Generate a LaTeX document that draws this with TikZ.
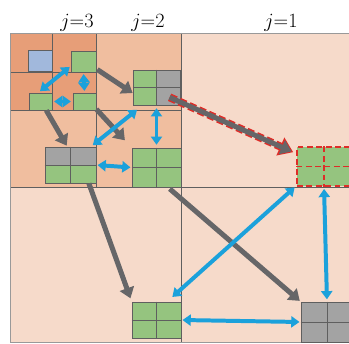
\documentclass[tikz,border=0pt]{standalone}
\usepackage{tikz}
\usetikzlibrary{arrows.meta, calc, fit}
\definecolor{levelthree}{RGB}{231,158,120}
\definecolor{leveltwo}{RGB}{240,190,159}
\definecolor{levelone}{RGB}{246,218,202}
\definecolor{cellgreen}{RGB}{149,196,127}
\definecolor{cellgray}{RGB}{163,163,163}
\definecolor{cellblue}{RGB}{161,184,220}
\definecolor{linkblue}{RGB}{27,161,219}
\definecolor{linkgray}{RGB}{102,102,104}
\definecolor{dashred}{RGB}{222,45,40}
\definecolor{gridgray}{RGB}{95,95,95}

% one cell block: name, corners, colour
\newcommand{\onecell}[6]{%
  \node[cellbox, fill=#6, fit={(#2,#3) (#4,#5)}] (#1) {};}
% two by two block: name, corners, colours tl tr bl br
\newcommand{\fourcell}[9]{%
  \pgfmathsetmacro{\midx}{(#2+#4)/2}\pgfmathsetmacro{\midy}{(#3+#5)/2}
  \fill[#6] (#2,#3) rectangle (\midx,\midy);
  \fill[#7] (\midx,#3) rectangle (#4,\midy);
  \fill[#8] (#2,\midy) rectangle (\midx,#5);
  \fill[#9] (\midx,\midy) rectangle (#4,#5);
  \node[blockframe, fit={(#2,#3) (#4,#5)}] (#1) {};
  \draw[blockgrid] (#1.north) -- (#1.south) (#1.west) -- (#1.east);}

\begin{document}
\begin{tikzpicture}[
    x=0.03cm, y=-0.03cm,
    gridline/.style={draw=gridgray, line width=0.6pt},
    frameline/.style={draw=gray!80, line width=0.8pt},
    cellbox/.style={rectangle, draw=gridgray, line width=0.6pt, inner sep=0pt},
    blockframe/.style={rectangle, draw=gridgray, line width=0.6pt, inner sep=0pt},
    blockgrid/.style={draw=gridgray, line width=0.6pt},
    lbl/.style={anchor=base, inner sep=0pt, font=\fontsize{17}{20}\selectfont},
    bluelink/.style={{Triangle[width=9.5pt,length=7pt]}-{Triangle[width=9.5pt,length=7pt]}, line width=3.4pt, color=linkblue},
    graylink/.style={-{Triangle[width=12.5pt,length=9pt]}, line width=4.3pt, color=linkgray},
    redrim/.style={-{Triangle[width=16pt,length=12pt]}, line width=6.8pt, color=dashred, dash pattern=on 6pt off 3pt}
]
    \useasboundingbox (0,0) rectangle (349,343);
    \clip (0,0) rectangle (349,343);

    % Levels
    \fill[levelone] (10,33) rectangle (349,342);
    \fill[leveltwo] (10,33) rectangle (181,187);
    \fill[levelthree] (10,33) rectangle (96,110);
    \draw[gridline] (181,33) -- (181,342) (10,187) -- (349,187)
        (96,33) -- (96,187) (10,110) -- (181,110)
        (52,33) -- (52,110) (10,72) -- (96,72);
    \draw[frameline] (349,33) -- (10,33) -- (10,342) -- (349,342);

    \node[lbl] (jthree) at (77,28) {$j{=}3$};
    \node[lbl] (jtwo) at (148,28) {$j{=}2$};
    \node[lbl] (jone) at (281,28) {$j{=}1$};

    % Blocks
    \onecell{qa}{28}{50}{52}{71}{cellblue}
    \onecell{qb}{71}{51}{96}{72}{cellgreen}
    \onecell{qc}{29}{93}{52}{110}{cellgreen}
    \onecell{qd}{73}{93}{96}{110}{cellgreen}
    \fourcell{qe}{133}{70}{180}{105}{cellgreen}{cellgray}{cellgreen}{cellgray}
    \fourcell{qf}{45}{147}{96}{183}{cellgray}{cellgray}{cellgreen}{cellgreen}
    \fourcell{qg}{132}{148}{181}{187}{cellgreen}{cellgreen}{cellgreen}{cellgreen}
    \fourcell{qj}{132}{302}{181}{338}{cellgreen}{cellgreen}{cellgreen}{cellgreen}
    \fourcell{qi}{301}{302}{353}{342}{cellgray}{cellgray}{cellgray}{cellgray}
    \begin{scope}[blockframe/.style={rectangle, draw=dashred, line width=1pt, dash pattern=on 5pt off 3pt, inner sep=0pt},
                  blockgrid/.style={draw=dashred, line width=1pt, dash pattern=on 5pt off 3pt}]
    \fourcell{qh}{297}{147}{351}{186}{cellgreen}{cellgreen}{cellgreen}{cellgreen}
    \end{scope}

    % Gray arrows
    \draw[graylink, shorten <=1pt] (qb.-30) -- (qe.-167);
    \draw[graylink, shorten >=0.3cm] (qd.-33) -- (qg.north west);
    \draw[graylink, shorten >=1pt] (qc.-57) -- (qf.100);
    \draw[graylink, shorten >=3pt] (qf.-45) -- (qj.north west);
    \draw[graylink, shorten <=2pt, shorten >=1pt] (qg.-60) -- (qi.north west);
    \draw[redrim, shorten >=3pt] ($(qe.center)!0.55!(qe.south east)$) -- (qh.155);
    \draw[graylink, shorten >=4.6pt] ($(qe.center)!0.55!(qe.south east)$) -- (qh.155);

    % Blue arrows
    \draw[bluelink, shorten <=1pt, shorten >=2pt] (qb.-160) -- (qc.105);
    \draw[bluelink, shorten <=1.5pt, shorten >=1.5pt] (qb.south) -- (qd.north);
    \draw[bluelink, shorten <=1.5pt, shorten >=1.5pt] (qc.east) -- (qd.west);
    \draw[bluelink, shorten <=6pt, shorten >=2pt] (qe.-128) -- (qf.42);
    \draw[bluelink, shorten <=2.5pt, shorten >=2.5pt] (qe.south) -- (qg.north);
    \draw[bluelink, shorten <=1pt, shorten >=1pt] (qf.east) -- (qg.west);
    \draw[bluelink, shorten <=2pt, shorten >=6pt] (qh.-145) -- (qj.60);
    \draw[bluelink, shorten <=2pt, shorten >=2pt] (qh.south) -- (qi.north);
    \draw[bluelink, shorten <=1pt, shorten >=1pt] (qj.east) -- (qi.west);

\end{tikzpicture}
\end{document}
